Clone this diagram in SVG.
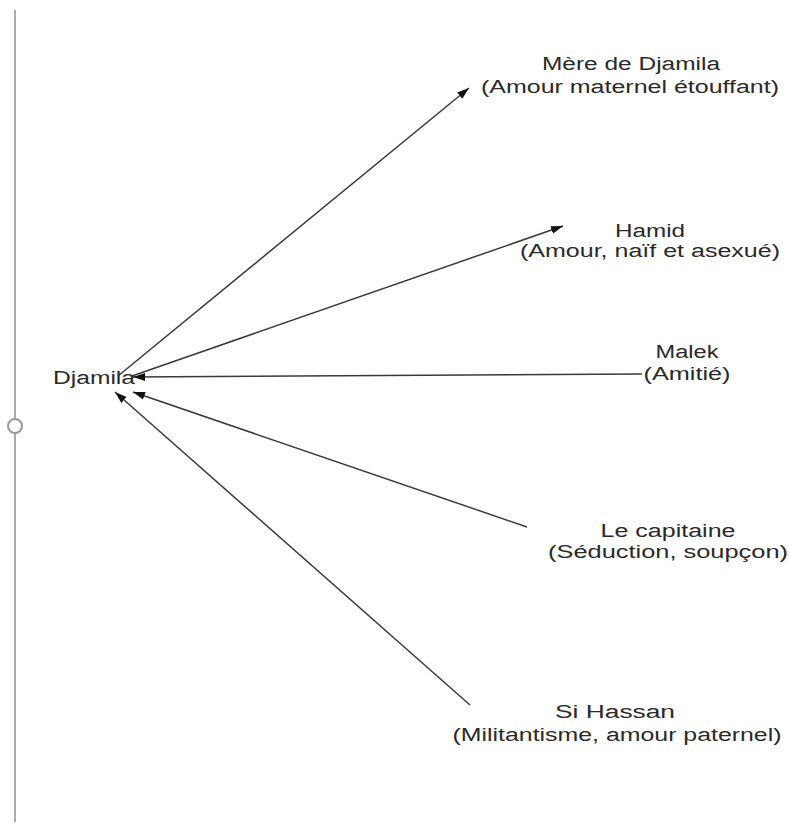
<svg xmlns="http://www.w3.org/2000/svg" width="789" height="825" viewBox="0 0 789 825">
<style>
.lbl{font-family:"Liberation Sans",Arial,sans-serif;font-size:18px;fill:#2a2a2a;text-anchor:middle}
.edge{stroke:#3a3a3a;stroke-width:1.5;fill:none;marker-end:url(#arr)}
</style>
<defs>
<marker id="arr" markerUnits="userSpaceOnUse" markerWidth="13" markerHeight="9" refX="12" refY="4" orient="auto">
<path d="M0,0 L12,4 L0,8 z" fill="#111"/>
</marker>
</defs>
<rect width="789" height="825" fill="#fff"/>
<line x1="15" y1="10" x2="15" y2="822" stroke="#aaa" stroke-width="2"/>
<circle cx="15" cy="426" r="7" fill="#fff" stroke="#999" stroke-width="2"/>
<g id="connectors">
<path class="edge" d="M118,376 L469,88"/>
<path class="edge" d="M132,376 L563,226"/>
<path class="edge" d="M642,374 L133,377"/>
<path class="edge" d="M527,527 L133,392"/>
<path class="edge" d="M470,705 L115,392"/>
</g>
<g id="djamila"><text class="lbl" x="94" y="384" textLength="82" lengthAdjust="spacingAndGlyphs">Djamila</text></g>
<g id="mere">
<text class="lbl" x="631" y="70" textLength="178" lengthAdjust="spacingAndGlyphs">Mère de Djamila</text>
<text class="lbl" x="630" y="93" textLength="298" lengthAdjust="spacingAndGlyphs">(Amour maternel étouffant)</text>
</g>
<g id="hamid">
<text class="lbl" x="650" y="237" textLength="70" lengthAdjust="spacingAndGlyphs">Hamid</text>
<text class="lbl" x="650" y="257" textLength="260" lengthAdjust="spacingAndGlyphs">(Amour, naïf et asexué)</text>
</g>
<g id="malek">
<text class="lbl" x="687" y="358" textLength="63" lengthAdjust="spacingAndGlyphs">Malek</text>
<text class="lbl" x="687" y="380" textLength="87" lengthAdjust="spacingAndGlyphs">(Amitié)</text>
</g>
<g id="capitaine">
<text class="lbl" x="668" y="537" textLength="135" lengthAdjust="spacingAndGlyphs">Le capitaine</text>
<text class="lbl" x="668" y="558" textLength="240" lengthAdjust="spacingAndGlyphs">(Séduction, soupçon)</text>
</g>
<g id="sihassan">
<text class="lbl" x="615" y="718" textLength="120" lengthAdjust="spacingAndGlyphs">Si Hassan</text>
<text class="lbl" x="617" y="741" textLength="329" lengthAdjust="spacingAndGlyphs">(Militantisme, amour paternel)</text>
</g>
</svg>
